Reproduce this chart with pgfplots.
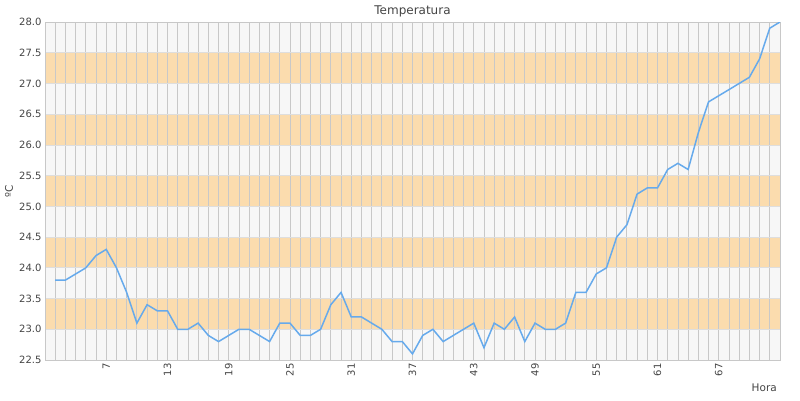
\documentclass[border=0pt]{standalone}
\usepackage{fontspec}
\setmainfont{DejaVu Sans}
\usepackage{pgfplots}
\pgfplotsset{compat=1.18}
\definecolor{linec}{RGB}{102,170,236}
\definecolor{bandc}{RGB}{251,220,174}
\definecolor{bgc}{RGB}{247,247,247}
\definecolor{gridc}{RGB}{200,200,200}
\definecolor{hgridc}{RGB}{222,222,222}
\definecolor{txtc}{RGB}{68,68,68}
\begin{document}
\begin{tikzpicture}
\begin{axis}[
  set layers=standard,
  at={(45pt,40pt)}, anchor=south west,
  scale only axis, width=735pt, height=338pt,
  xmin=1, xmax=73, ymin=22.5, ymax=28,
  xtick={7,13,...,67},
  minor xtick={1,...,73},
  ytick={22.5,23,...,28},
  xmajorgrids, xminorgrids, ymajorgrids,
  major x grid style={gridc, line width=0.8pt},
  minor x grid style={gridc, line width=0.8pt},
  major y grid style={hgridc, line width=0.8pt},
  major tick length=0pt, minor tick length=0pt,
  axis line style={gridc, line width=0.8pt},
  axis background/.style={fill=bgc},
  /pgf/number format/assume math mode=true,
  yticklabel style={/pgf/number format/.cd, fixed, fixed zerofill, precision=1},
  ticklabel style={font=\fontsize{10}{12}\selectfont, text=txtc},
  xticklabel style={rotate=90, anchor=east},
  title={Temperatura},
  title style={font=\fontsize{12}{14}\selectfont, text=txtc, at={(axis description cs:0.5,1)}, anchor=base, inner sep=0pt, yshift=2pt},
  ylabel={ºC},
  ylabel style={font=\fontsize{10.5}{12}\selectfont, text=txtc, at={(axis description cs:-0.049,0.5)}, anchor=center, inner sep=0pt},
  xlabel={Hora},
  xlabel style={font=\fontsize{10.5}{12}\selectfont, text=txtc, at={(axis description cs:1,0)}, anchor=base east, inner sep=0pt, xshift=-3pt, yshift=-31pt},
]
\addplot[on layer=axis background, fill=bandc, draw=none] coordinates {(1,23) (73,23) (73,23.5) (1,23.5)} -- cycle;
\addplot[on layer=axis background, fill=bandc, draw=none] coordinates {(1,24) (73,24) (73,24.5) (1,24.5)} -- cycle;
\addplot[on layer=axis background, fill=bandc, draw=none] coordinates {(1,25) (73,25) (73,25.5) (1,25.5)} -- cycle;
\addplot[on layer=axis background, fill=bandc, draw=none] coordinates {(1,26) (73,26) (73,26.5) (1,26.5)} -- cycle;
\addplot[on layer=axis background, fill=bandc, draw=none] coordinates {(1,27) (73,27) (73,27.5) (1,27.5)} -- cycle;
\addplot[linec, line width=1.5pt, mark=none] table {
x y
2 23.8
3 23.8
4 23.9
5 24.0
6 24.2
7 24.3
8 24.0
9 23.6
10 23.1
11 23.4
12 23.3
13 23.3
14 23.0
15 23.0
16 23.1
17 22.9
18 22.8
19 22.9
20 23.0
21 23.0
22 22.9
23 22.8
24 23.1
25 23.1
26 22.9
27 22.9
28 23.0
29 23.4
30 23.6
31 23.2
32 23.2
33 23.1
34 23.0
35 22.8
36 22.8
37 22.6
38 22.9
39 23.0
40 22.8
41 22.9
42 23.0
43 23.1
44 22.7
45 23.1
46 23.0
47 23.2
48 22.8
49 23.1
50 23.0
51 23.0
52 23.1
53 23.6
54 23.6
55 23.9
56 24.0
57 24.5
58 24.7
59 25.2
60 25.3
61 25.3
62 25.6
63 25.7
64 25.6
65 26.2
66 26.7
67 26.8
68 26.9
69 27.0
70 27.1
71 27.4
72 27.9
73 28.0
};
\end{axis}
\path (0,0) rectangle (800pt,400pt);
\end{tikzpicture}
\end{document}
